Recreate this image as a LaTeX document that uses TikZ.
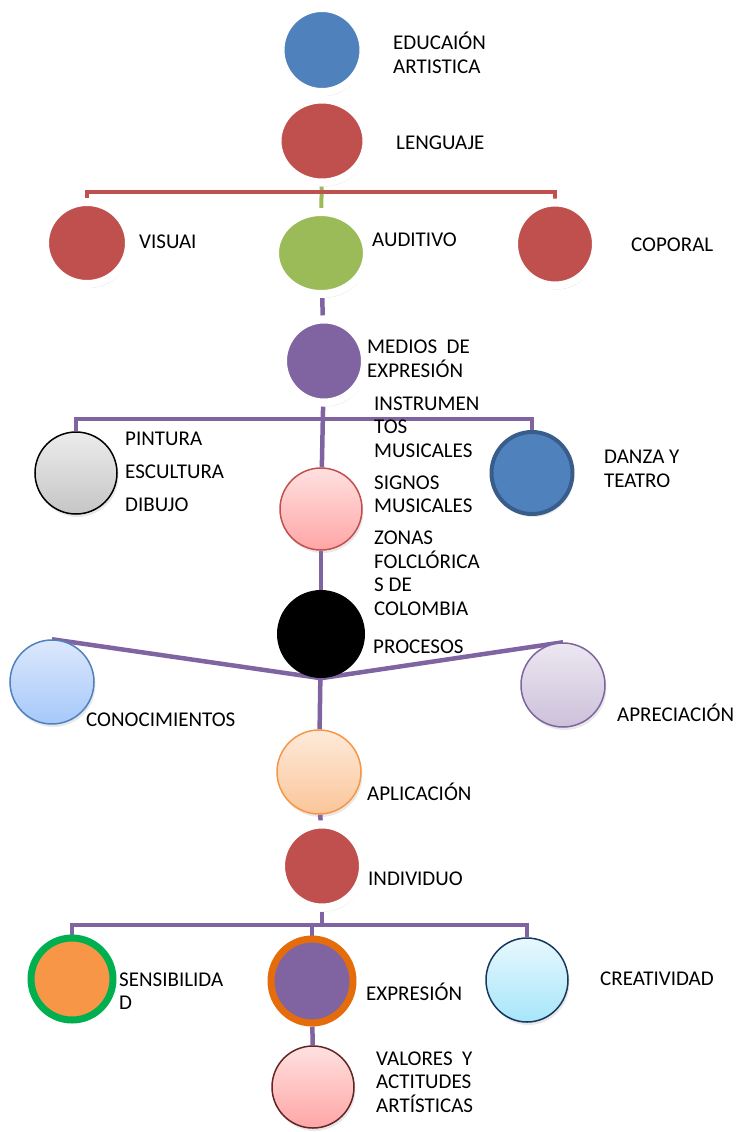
\documentclass[tikz,border=0pt]{standalone}
\usepackage{fontspec}
\setmainfont{Carlito}
\usetikzlibrary{shapes.geometric,shadows,backgrounds}
\definecolor{EduBlue}{HTML}{4F81BD}
\definecolor{EduNavy}{HTML}{385D8A}
\definecolor{EduRed}{HTML}{C0504D}
\definecolor{EduGreen}{HTML}{9BBB59}
\definecolor{EduPurple}{HTML}{8064A2}
\definecolor{EduOrange}{HTML}{F79646}
\definecolor{EduDarkOrange}{HTML}{E46C0A}
\definecolor{EduRingGreen}{HTML}{00B050}
\definecolor{EduDarkRed}{HTML}{632523}
\definecolor{EduDeepNavy}{HTML}{17375E}
\definecolor{EduSkyTop}{HTML}{DCE8FC}
\definecolor{EduSkyBottom}{HTML}{A6C8FA}
\definecolor{EduCyanTop}{HTML}{E8F8FE}
\definecolor{EduCyanBottom}{HTML}{A6E6FA}

\tikzset{
  ringnode/.style={ellipse, draw=white, line width=8pt, inner sep=0pt,
    drop shadow={opacity=0.3, shadow xshift=1.5pt, shadow yshift=-4pt}},
  gradnode/.style={ellipse, line width=1.5pt, inner sep=0pt,
    minimum width=82pt, minimum height=82pt,
    drop shadow={opacity=0.18, shadow xshift=1.5pt, shadow yshift=-3pt}},
  lbl/.style={anchor=west, inner sep=0pt, align=left,
    font=\fontsize{21}{23.5}\selectfont},
  redline/.style={line width=4pt, EduRed},
  greenline/.style={line width=4pt, EduGreen},
  purpleline/.style={line width=4.5pt, EduPurple},
}

\begin{document}
\begin{tikzpicture}[x=1pt,y=-1pt]
  \useasboundingbox (0,0) rectangle (740,1132);

  % Top of the tree
  \node[ringnode, fill=EduBlue, minimum width=83pt, minimum height=84pt] (edu) at (322,50) {};
  \node[ringnode, fill=EduRed, minimum width=89pt, minimum height=83pt] (lenguaje) at (322,141) {};

  % Lenguajes
  \node[ringnode, fill=EduRed, minimum width=84pt, minimum height=82pt] (visual) at (87,243) {};
  \node[ringnode, fill=EduGreen, minimum width=92pt, minimum height=82pt] (auditivo) at (321,253) {};
  \node[ringnode, fill=EduRed, minimum width=82pt, minimum height=83pt] (corporal) at (555,244) {};

  % Medios de expresion
  \node[ringnode, fill=EduPurple, minimum width=82pt, minimum height=83pt] (medios) at (324,361) {};
  \node[gradnode, draw=black, top color=gray!15, bottom color=gray!45] (pintura) at (76,473) {};
  \node[gradnode, draw=EduRed, top color=red!12, bottom color=red!35] (instrum) at (321,509) {};
  \node[gradnode, draw=EduNavy, line width=4pt, fill=EduBlue, minimum width=81pt, minimum height=82pt] (danza) at (532,473) {};

  % Procesos
  \node[ellipse, fill=black, inner sep=0pt, minimum width=88pt, minimum height=88pt] (procesos) at (321,634) {};
  \node[gradnode, draw=EduBlue, top color=EduSkyTop, bottom color=EduSkyBottom, minimum width=84pt, minimum height=84pt] (conocim) at (52,682) {};
  \node[gradnode, draw=EduPurple, top color=EduPurple!15, bottom color=EduPurple!40, minimum width=84pt, minimum height=84pt] (aprec) at (563,685) {};
  \node[gradnode, draw=EduOrange, top color=EduOrange!20, bottom color=EduOrange!55, minimum width=84pt, minimum height=84pt] (aplic) at (319,772) {};

  % Individuo
  \node[ringnode, fill=EduRed, minimum width=82pt, minimum height=83pt] (individuo) at (322,866) {};
  \node[gradnode, draw=EduRingGreen, line width=7pt, fill=EduOrange, minimum width=82pt, minimum height=82pt] (sensib) at (72,979) {};
  \node[gradnode, draw=EduDarkOrange, line width=7pt, fill=EduPurple, minimum width=82pt, minimum height=84pt] (expresion) at (312,981) {};
  \node[gradnode, draw=EduDeepNavy, top color=EduCyanTop, bottom color=EduCyanBottom, minimum width=82pt, minimum height=84pt] (creativ) at (527,980) {};
  \node[gradnode, draw=EduDarkRed, top color=red!12, bottom color=red!35] (valores) at (313,1087) {};

  % Labels
  \node[lbl] (edu-txt) at (393,53) {EDUCAIÓN\\ARTISTICA};
  \node[lbl] (lenguaje-txt) at (396,143) {LENGUAJE};
  \node[lbl] (visual-txt) at (139,242) {VISUAI};
  \node[lbl] (auditivo-txt) at (372,240) {AUDITIVO};
  \node[lbl] (corporal-txt) at (631,245) {COPORAL};
  \node[lbl] (medios-txt) at (367,359) {MEDIOS\ \ DE\\EXPRESIÓN};
  \node[lbl] (pintura-txt) at (125,472) {PINTURA\\[9.5pt]ESCULTURA\\[9.5pt]DIBUJO};
  \node[lbl] (instrum-txt) at (374,506) {INSTRUMEN\\TOS\\MUSICALES\\[8.5pt]SIGNOS\\MUSICALES\\[8.5pt]ZONAS\\FOLCLÓRICA\\S DE\\COLOMBIA};
  \node[lbl] (danza-txt) at (604,469) {DANZA Y\\TEATRO};
  \node[lbl] (procesos-txt) at (373,647) {PROCESOS};
  \node[lbl] (conocim-txt) at (86,720) {CONOCIMIENTOS};
  \node[lbl] (aprec-txt) at (617,713) {APRECIACIÓN};
  \node[lbl] (aplic-txt) at (367,792) {APLICACIÓN};
  \node[lbl] (individuo-txt) at (368,879) {INDIVIDUO};
  \node[lbl] (sensib-txt) at (119,991) {SENSIBILIDA\\D};
  \node[lbl] (expresion-txt) at (366,992) {EXPRESIÓN};
  \node[lbl] (creativ-txt) at (600,979) {CREATIVIDAD};
  \node[lbl] (valores-txt) at (376,1082) {VALORES\ \ Y\\ACTITUDES\\ARTÍSTICAS};

  % Connectors
  \coordinate (redbar) at (322,192);
  \coordinate (medbar) at (324,419);
  \coordinate (indbar) at (322,925);
  \begin{scope}[on background layer]
    \draw[redline] (edu) -- (lenguaje);
    \draw[greenline] (lenguaje) -- (auditivo);
    \draw[redline] (visual) |- (redbar) -| (corporal);
    \draw[purpleline] (auditivo) -- (medios);
    \draw[purpleline] (pintura) |- (medbar) -| (danza);
    \draw[purpleline] (medios) -- (instrum);
    \draw[purpleline] (instrum) -- (procesos);
    \draw[purpleline] (procesos.south) -- (conocim.north);
    \draw[purpleline] (procesos.south) -- (aprec.north);
    \draw[purpleline] (procesos) -- (aplic);
    \draw[purpleline] (aplic) -- (individuo);
    \draw[purpleline] (sensib) |- (indbar) -| (creativ);
    \draw[purpleline] (individuo) -- (indbar);
    \draw[purpleline] (expresion) -- (expresion |- indbar);
    \draw[purpleline] (expresion) -- (valores);
  \end{scope}
\end{tikzpicture}
\end{document}
